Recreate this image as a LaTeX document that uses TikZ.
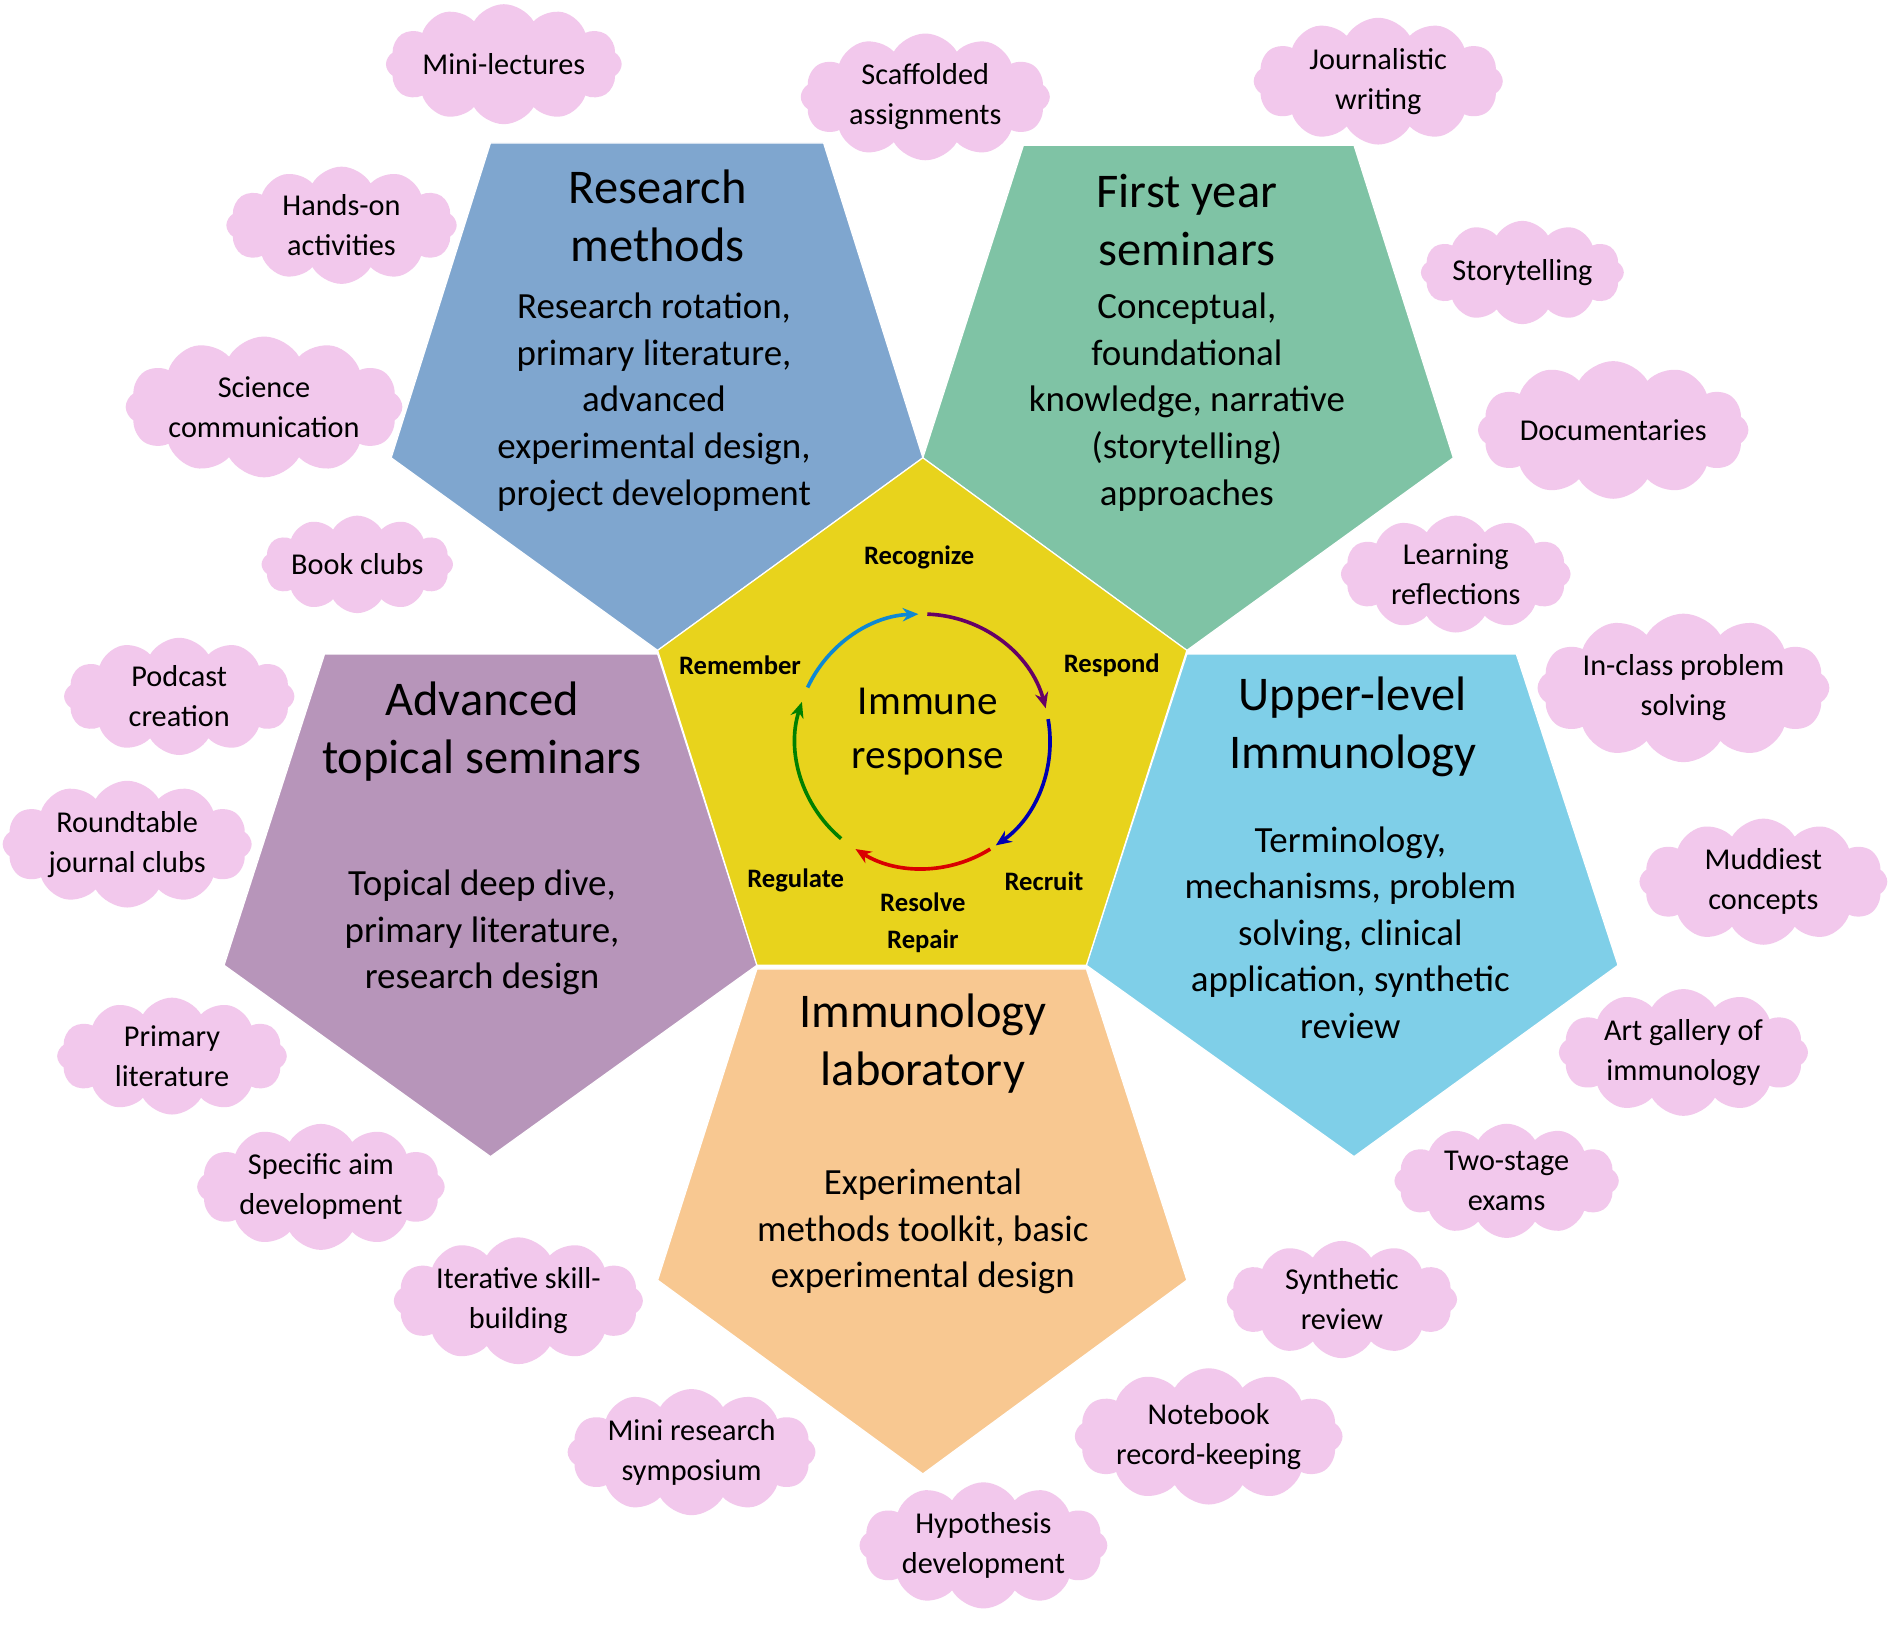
\documentclass[tikz,border=0pt]{standalone}
\usepackage{fontspec}
\setmainfont{Carlito}
\usetikzlibrary{shapes.symbols,arrows.meta}
\definecolor{cblue}{HTML}{7FA6CF}
\definecolor{cgreen}{HTML}{7FC3A5}
\definecolor{cyel}{HTML}{E8D31C}
\definecolor{cpur}{HTML}{B795BA}
\definecolor{ccyan}{HTML}{7FCFE8}
\definecolor{corg}{HTML}{F8C891}
\definecolor{cpink}{HTML}{F2C8EC}
\tikzset{
 pent/.style={draw=white,line width=1pt},
 cl/.style={cloud,cloud puffs=12,cloud puff arc=120,aspect=2.6,fill=cpink,inner sep=0pt,align=center,font=\fontsize{25}{33}\selectfont},
 ttl/.style={align=center,font=\fontsize{40}{48}\selectfont},
 bdy/.style={align=center,font=\fontsize{30.5}{38.5}\selectfont},
 lab/.style={font=\bfseries\fontsize{22}{30}\selectfont},
 arr/.style={line width=3pt,-{Stealth[length=13pt,width=11pt]}}
}
\begin{document}
\begin{tikzpicture}[x=1pt,y=-1pt]
\useasboundingbox[fill=white] (0,0) rectangle (1568,1342);
\fill[cblue,pent] (405,118)--(680,118)--(762,378)--(543,537)--(323,378)--cycle;
\fill[cgreen,pent] (845,120)--(1118,120)--(1200,378)--(980,537)--(762,378)--cycle;
\fill[cpur,pent] (268,540)--(543,540)--(625,797)--(405,955)--(185,797)--cycle;
\fill[ccyan,pent] (980,540)--(1252,540)--(1336,797)--(1118,955)--(897,797)--cycle;
\fill[corg,pent] (625,800)--(897,800)--(980,1057)--(762,1217)--(543,1057)--cycle;
\fill[cyel,pent] (762,378)--(980,537)--(897,797)--(625,797)--(543,537)--cycle;
\node[ttl] (t1) at (543,178) {Research\\methods};
\node[bdy] (b1) at (540,332) {Research rotation,\\primary literature,\\advanced\\experimental design,\\project development};
\node[ttl] (t2) at (980,182) {First year\\seminars};
\node[bdy] (b2) at (980,332) {Conceptual,\\foundational\\knowledge, narrative\\(storytelling)\\approaches};
\node[ttl] (t3) at (398,604) {Advanced\\topical seminars};
\node[bdy] (b3) at (398,770) {Topical deep dive,\\primary literature,\\research design};
\node[ttl] (t4) at (1117,600) {Upper-level\\Immunology};
\node[bdy] (b4) at (1115,770) {Terminology,\\mechanisms, problem\\solving, clinical\\application, synthetic\\review};
\node[ttl] (t5) at (762,862) {Immunology\\laboratory};
\node[bdy] (b5) at (762,1017) {Experimental\\methods toolkit, basic\\experimental design};
\node[ttl,font=\fontsize{34}{44}\selectfont] (ir) at (766,604) {Immune\\response};
\coordinate (c) at (762,612);
\draw[arr,cyan!70!blue] ([shift={(205:105)}]c) arc[start angle=205,end angle=268,radius=105];
\draw[arr,violet!80!black] ([shift={(272:105)}]c) arc[start angle=272,end angle=345,radius=105];
\draw[arr,blue!70!black] ([shift={(350:105)}]c) arc[start angle=350,end angle=415,radius=105];
\draw[arr,red!85!black] ([shift={(58:105)}]c) arc[start angle=58,end angle=122,radius=105];
\draw[arr,green!50!black] ([shift={(130:105)}]c) arc[start angle=130,end angle=198,radius=105];
\node[lab] (l1) at (759,460) {Recognize};
\node[lab] (l2) at (918,549) {Respond};
\node[lab] (l3) at (862,728) {Recruit};
\node[lab,align=center] (l4) at (762,762) {Resolve\\Repair};
\node[lab] (l5) at (657,727) {Regulate};
\node[lab] (l6) at (611,549) {Remember};
\node[cl] (k1) at (416,53) {Mini-lectures};
\node[cl] (k2) at (764,80) {Scaffolded\\assignments};
\node[cl] (k3) at (1138,67) {Journalistic\\writing};
\node[cl] (k4) at (282,186) {Hands-on\\activities};
\node[cl] (k5) at (1257,225) {Storytelling};
\node[cl] (k6) at (218,336) {Science\\communication};
\node[cl] (k7) at (1332,355) {Documentaries};
\node[cl] (k8) at (295,466) {Book clubs};
\node[cl] (k9) at (1202,474) {Learning\\reflections};
\node[cl] (k10) at (148,575) {Podcast\\creation};
\node[cl] (k11) at (1390,568) {In-class problem\\solving};
\node[cl] (k12) at (105,697) {Roundtable\\journal clubs};
\node[cl] (k13) at (1456,728) {Muddiest\\concepts};
\node[cl] (k14) at (142,872) {Primary\\literature};
\node[cl] (k15) at (1390,869) {Art gallery of\\immunology};
\node[cl] (k16) at (265,980) {Specific aim\\development};
\node[cl] (k17) at (1244,975) {Two-stage\\exams};
\node[cl] (k18) at (428,1074) {Iterative skill-\\building};
\node[cl] (k19) at (1108,1073) {Synthetic\\review};
\node[cl] (k20) at (571,1199) {Mini research\\symposium};
\node[cl] (k21) at (998,1186) {Notebook\\record-keeping};
\node[cl] (k22) at (812,1276) {Hypothesis\\development};
\end{tikzpicture}
\end{document}
